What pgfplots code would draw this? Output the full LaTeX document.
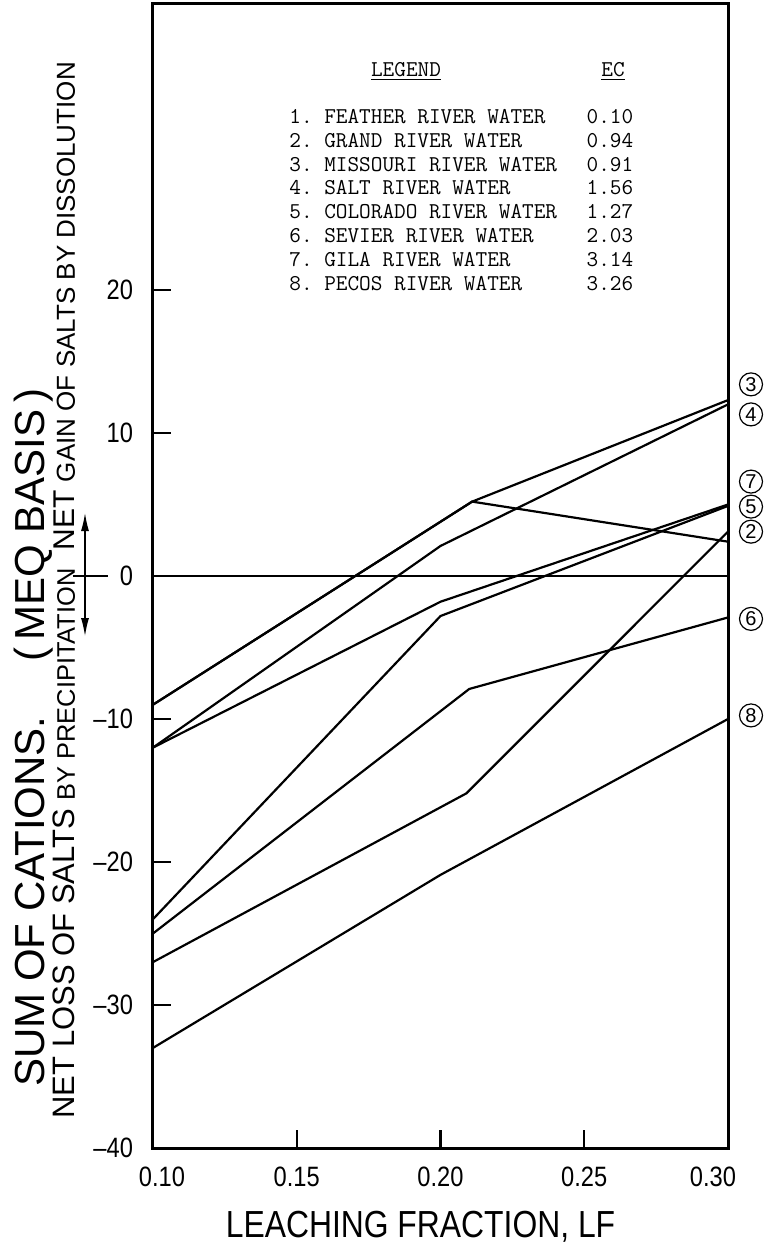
\documentclass[border=0pt]{standalone}
\usepackage{pgfplots}
\pgfplotsset{compat=1.18}
\usepackage{fontspec}
\usetikzlibrary{arrows.meta}
\newfontfamily\lett[FakeStretch=0.845]{Liberation Sans}
\newfontfamily\sans{Liberation Sans}

\begin{document}
\begin{tikzpicture}[circ/.style={draw, circle, line width=0.6pt, inner sep=0pt, minimum size=11.5pt,
        font=\sans\fontsize{10}{10}\selectfont, xshift=11.5pt}]
\begin{axis}[
  scale only axis, width=287.5pt, height=572pt,
  xmin=0.1, xmax=0.3, ymin=-40, ymax=40,
  axis line style={line width=1.5pt},
  xtick={0.1,0.15,0.2,0.25,0.3},
  xticklabels={\hspace*{9pt}0.10, 0.15, 0.20, 0.25, 0.30\hspace*{15pt}},
  ytick={-40,-30,-20,-10,0,10,20},
  yticklabels={\textendash40,\textendash30,\textendash20,\textendash10,0,10,20},
  tick align=inside, xtick pos=bottom, ytick pos=left,
  major tick length=9pt,
  tick style={line width=1.2pt, black},
  ticklabel style={font=\lett\fontsize{14}{16}\selectfont},
  xticklabel style={yshift=-6pt},
  yticklabel style={xshift=-6.5pt},
  clip=false,
]
% zero line
\addplot[black, line width=0.6pt, mark=none] coordinates {(0.10,0) (0.30,0)};
% 3
\addplot[black, line width=1.1pt, mark=none] coordinates {(0.10,-9) (0.211,5.2) (0.30,12.3)};
% 2
\addplot[black, line width=1.1pt, mark=none] coordinates {(0.10,-9) (0.211,5.2) (0.30,2.4)};
% 4
\addplot[black, line width=1.1pt, mark=none] coordinates {(0.10,-12) (0.20,2.1) (0.30,12.0)};
% 5
\addplot[black, line width=1.1pt, mark=none] coordinates {(0.10,-12) (0.20,-1.8) (0.30,5.0)};
% 7
\addplot[black, line width=1.1pt, mark=none] coordinates {(0.10,-24) (0.20,-2.8) (0.30,4.9)};
% steep
\addplot[black, line width=1.1pt, mark=none] coordinates {(0.10,-27) (0.209,-15.2) (0.30,3.1)};
% 6
\addplot[black, line width=1.1pt, mark=none] coordinates {(0.10,-25) (0.21,-7.9) (0.30,-2.9)};
% 8
\addplot[black, line width=1.1pt, mark=none] coordinates {(0.10,-33) (0.20,-20.9) (0.30,-10.0)};

% circled labels
\node[circ] at (axis cs:0.3,13.4) {3};
\node[circ] at (axis cs:0.3,11.3) {4};
\node[circ] at (axis cs:0.3,6.6) {7};
\node[circ] at (axis cs:0.3,4.85) {5};
\node[circ] at (axis cs:0.3,3.1) {2};
\node[circ] at (axis cs:0.3,-3.0) {6};
\node[circ] at (axis cs:0.3,-9.75) {8};

% legend block
\node[anchor=base, inner sep=0pt, font=\fontsize{11.3}{11.95}\selectfont\ttfamily]
  at (rel axis cs:0.44,0.937) {\underline{LEGEND}};
\node[anchor=base, inner sep=0pt, font=\fontsize{11.3}{11.95}\selectfont\ttfamily]
  at (rel axis cs:0.80,0.937) {\underline{EC}};
\node[anchor=base west, inner sep=0pt, font=\fontsize{11.3}{11.95}\selectfont\ttfamily\frenchspacing]
  at (rel axis cs:0.2365,0.8957) {\begin{tabular}[t]{@{}l@{\hspace{1.31em}}l@{}}
1. FEATHER RIVER WATER & 0.10\\
2. GRAND RIVER WATER & 0.94\\
3. MISSOURI RIVER WATER & 0.91\\
4. SALT RIVER WATER & 1.56\\
5. COLORADO RIVER WATER & 1.27\\
6. SEVIER RIVER WATER & 2.03\\
7. GILA RIVER WATER & 3.14\\
8. PECOS RIVER WATER & 3.26
\end{tabular}};

% axis labels
\node[anchor=base, inner sep=0pt, font=\lett\fontsize{18.85}{20}\selectfont]
  at ([xshift=-10pt, yshift=-44.5pt]rel axis cs:0.5,0) {LEACHING FRACTION, LF};
\node[anchor=base east, rotate=90, inner sep=0pt, font=\sans\fontsize{21}{22}\selectfont]
  at ([xshift=-54pt]rel axis cs:0,0.664) {SUM OF CATIONS.\hspace{1.3em}(\,MEQ BASIS\,)};
\node[anchor=base west, rotate=90, inner sep=0pt, font=\sans\fontsize{15}{16}\selectfont]
  at ([xshift=-39pt]rel axis cs:0,0.522) {NET {\fontsize{13}{14}\selectfont GAIN OF SALTS BY DISSOLUTION}};
\node[anchor=base east, rotate=90, inner sep=0pt, font=\sans\fontsize{15.5}{16}\selectfont]
  at ([xshift=-39pt]rel axis cs:0,0.507) {NET LOSS OF SALTS {\fontsize{12.7}{13}\selectfont BY PRECIPITATION}};

% arrows at zero
\draw[line width=0.6pt, {Latex[length=9pt,width=4pt]}-{Latex[length=9pt,width=4pt]}]
  ([xshift=-34pt]axis cs:0.1,4.4) -- ([xshift=-34pt]axis cs:0.1,-4.2);
\draw[line width=0.6pt] ([xshift=-40pt]axis cs:0.1,0) -- ([xshift=-22.5pt]axis cs:0.1,0);

% bounding box
\path ([xshift=-76.5pt, yshift=-48pt]rel axis cs:0,0) rectangle ([xshift=22pt, yshift=2pt]rel axis cs:1,1);
\end{axis}
\end{tikzpicture}
\end{document}
